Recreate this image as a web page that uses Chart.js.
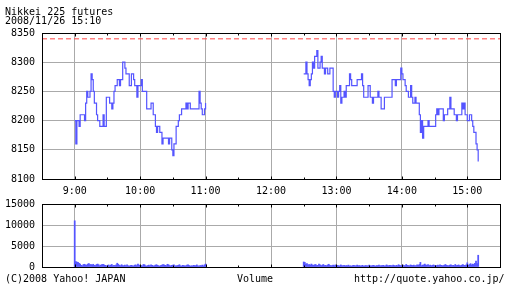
<!DOCTYPE html>
<html>
<head>
<meta charset="utf-8">
<script src="https://cdn.jsdelivr.net/npm/chart.js@4.4.1/dist/chart.umd.min.js"></script>
<style>
body { margin: 0; background: #fff; width: 512px; height: 288px; overflow: hidden; position: relative; }
canvas { position: absolute; left: 0; }
.txt { position: absolute; z-index: 2; white-space: pre; font-family: "DejaVu Sans Mono", monospace; font-size: 10px; line-height: 9px; color: #000; }
</style>
</head>
<body>
<div class="txt" style="left:5px;top:7px">Nikkei 225 futures
2008/11/26 15:10</div>
<canvas id="price" width="512" height="200" style="top:0"></canvas>
<canvas id="vol" width="512" height="89" style="top:191px"></canvas>
<div class="txt" style="left:5px;top:274px">(C)2008 Yahoo! JAPAN</div>
<div class="txt" style="left:237px;top:274px">Volume</div>
<div class="txt" style="left:354px;top:274px">http://quote.yahoo.co.jp/</div>
<script>
// axis range and labels
const xStart = '8:30';
const xEnd = '15:30';
const hourLabels = ['9:00', '10:00', '11:00', '12:00', '13:00', '14:00', '15:00'];
const halfHours = ['9:30', '10:30', '11:30', '12:30', '13:30', '14:30'];
const priceTicks = [8100, 8150, 8200, 8250, 8300, 8350];
const volTicks = [0, 5000, 10000, 15000];
const prevClose = 8340;

// morning session (stepped, each value holds until the next time)
const amTimes = ['9:00','9:01','9:02','9:04','9:05','9:09','9:10','9:11','9:12','9:14','9:15','9:16','9:17','9:18',
  '9:20','9:21','9:23','9:26','9:27','9:29','9:32','9:34','9:35','9:36','9:37','9:39','9:41','9:42','9:44','9:46',
  '9:47','9:49','9:50','9:52','9:54','9:55','9:57','9:58','10:01','10:02','10:06','10:10','10:12','10:14','10:15',
  '10:16','10:18','10:20','10:21','10:26','10:27','10:29','10:30','10:31','10:33','10:35','10:36','10:38','10:42',
  '10:43','10:44','10:46','10:54','10:55','10:56','10:57','10:59','11:00'];
const amPrices = [8200,8160,8200,8190,8210,8200,8230,8250,8240,8250,8280,8270,8250,8230,
  8210,8200,8190,8210,8190,8240,8230,8220,8230,8250,8260,8270,8260,8270,8300,8290,
  8280,8280,8260,8280,8270,8260,8240,8260,8270,8250,8220,8230,8210,8190,8180,
  8190,8180,8160,8170,8160,8170,8150,8140,8160,8190,8200,8210,8220,8230,
  8220,8230,8220,8250,8230,8220,8210,8220,8230];

// afternoon session
const pmTimes = ['12:30','12:32','12:33','12:34','12:35','12:36','12:37','12:38','12:39','12:40','12:42','12:43',
  '12:45','12:46','12:47','12:49','12:50','12:52','12:54','12:57','12:58','12:59','13:01','13:02','13:03','13:04',
  '13:05','13:07','13:08','13:09','13:12','13:13','13:14','13:19','13:23','13:24','13:25','13:29','13:31','13:33',
  '13:34','13:38','13:39','13:41','13:44','13:51','13:54','13:55','13:59','14:00','14:01','14:03','14:04','14:06',
  '14:08','14:09','14:10','14:12','14:13','14:16','14:17','14:18','14:19','14:20','14:24','14:25','14:31','14:32',
  '14:33','14:34','14:38','14:39','14:42','14:44','14:45','14:48','14:50','14:51','14:55','14:56','14:57','14:58',
  '15:00','15:02','15:04','15:05','15:06','15:08','15:09','15:10'];
const pmPrices = [8280,8300,8280,8270,8260,8270,8280,8300,8290,8310,8320,8290,
  8300,8310,8290,8280,8290,8280,8290,8250,8240,8250,8240,8250,8260,8230,
  8240,8250,8240,8260,8280,8270,8260,8270,8280,8260,8240,8260,8240,8230,
  8240,8250,8240,8220,8240,8270,8260,8270,8290,8280,8270,8260,8250,8240,
  8260,8240,8230,8240,8230,8210,8180,8200,8170,8190,8200,8190,8210,8220,
  8210,8220,8200,8210,8220,8240,8220,8210,8200,8210,8230,8220,8230,8210,
  8200,8210,8200,8190,8180,8160,8150,8130];

// volume per minute, starting at 9:00 and 12:30
const amVolStart = '9:00';
const amVolume = [11000,
  1300,1200,1100,900,700,400,300,600,650,500,
  450,700,800,600,550,500,650,400,350,600,
  700,550,300,450,600,650,500,400,250,350,
  500,300,450,600,250,400,350,500,900,650,
  400,300,550,350,300,450,250,500,300,200,
  350,400,300,250,450,500,300,700,450,400,
  350,250,600,550,300,200,350,450,300,500,
  400,250,300,450,550,400,300,200,350,450,
  600,500,400,300,650,550,350,250,400,450,
  500,300,250,350,400,550,300,200,400,350,
  250,300,450,500,350,200,300,250,400,350,
  300,500,250,200,350,300,450,250,500,700];
const pmVolStart = '12:30';
const pmVolume = [1200,1100,700,800,500,600,450,700,500,400,550,
  600,350,400,700,500,300,450,600,350,400,
  300,500,650,400,250,350,450,300,500,350,
  400,300,250,500,350,300,400,250,350,300,
  450,250,300,200,350,400,300,250,450,300,
  350,250,300,400,200,300,350,250,300,450,
  300,250,350,400,300,200,350,300,450,250,
  300,350,400,250,300,500,350,300,400,350,
  300,450,350,250,400,300,550,400,300,350,
  450,350,300,600,400,350,300,500,400,350,
  450,300,350,500,400,600,1100,300,450,500,
  700,500,400,600,350,450,300,400,500,350,
  400,300,450,350,500,400,300,350,450,600,
  400,350,300,450,500,350,400,300,600,350,
  400,500,350,300,450,600,400,350,500,1000,
  400,600,800,500,700,600,900,1400,800,2800];

const blue = '#5555ff';
const red = '#ff4444';
const gridGray = '#aaaaaa';
const tickFont = { family: 'DejaVu Sans Mono', size: 10 };

function toMin(s) {
  const p = s.split(':');
  return Number(p[0]) * 60 + Number(p[1]);
}
function steps(times, vals) {
  return times.map((t, i) => ({ x: toMin(t), y: vals[i] }));
}
function perMinute(start, vals) {
  return vals.map((v, i) => ({ x: toMin(start) + i, y: v }));
}

// black frame plus the little inward ticks on top and bottom
const framePlugin = {
  id: 'frame',
  afterDraw(chart) {
    const a = chart.chartArea, ctx = chart.ctx, xs = chart.scales.x;
    const l = Math.round(a.left) + 0.5, r = Math.round(a.right) + 0.5;
    const t = Math.round(a.top) + 0.5, b = Math.round(a.bottom) + 0.5;
    ctx.save();
    ctx.strokeStyle = '#000';
    ctx.lineWidth = 1;
    ctx.strokeRect(l, t, r - l, b - t);
    ctx.beginPath();
    hourLabels.concat(halfHours).forEach(h => {
      const len = hourLabels.includes(h) ? 3 : 2;
      const px = Math.round(xs.getPixelForValue(toMin(h))) + 0.5;
      ctx.moveTo(px, t); ctx.lineTo(px, t + len);
      ctx.moveTo(px, b); ctx.lineTo(px, b - len);
    });
    ctx.stroke();
    ctx.restore();
  }
};

function xScale(showLabels, height) {
  return {
    type: 'linear',
    offset: false,
    min: toMin(xStart),
    max: toMin(xEnd),
    afterBuildTicks: s => { s.ticks = hourLabels.map(h => ({ value: toMin(h) })); },
    afterFit: s => { s.height = height; },
    ticks: {
      display: showLabels,
      autoSkip: false,
      maxRotation: 0,
      padding: 6,
      color: '#000',
      font: tickFont,
      callback: (v, i) => hourLabels[i]
    },
    grid: { color: gridGray, drawTicks: false, offset: false },
    border: { display: false }
  };
}

function yScale(min, max, values) {
  return {
    min: min,
    max: max,
    afterBuildTicks: s => { s.ticks = values.map(v => ({ value: v })); },
    afterFit: s => { s.width = 42; },
    ticks: { padding: 7, color: '#000', font: tickFont, callback: v => String(v) },
    grid: { color: gridGray, drawTicks: false },
    border: { display: false }
  };
}

const lineStyle = { borderColor: blue, borderWidth: 1.2, pointRadius: 0, stepped: true, fill: false };

new Chart(document.getElementById('price'), {
  type: 'line',
  data: {
    datasets: [
      Object.assign({ data: steps(amTimes, amPrices) }, lineStyle),
      Object.assign({ data: steps(pmTimes, pmPrices) }, lineStyle),
      {
        data: [{ x: toMin(xStart), y: prevClose }, { x: toMin(xEnd), y: prevClose }],
        borderColor: red, borderWidth: 1, borderDash: [5, 3], pointRadius: 0
      }
    ]
  },
  options: {
    responsive: false,
    animation: false,
    layout: { padding: { left: 0, right: 12, top: 33, bottom: 0 } },
    plugins: { legend: { display: false }, tooltip: { enabled: false } },
    scales: {
      x: xScale(true, 21),
      y: yScale(priceTicks[0], priceTicks[priceTicks.length - 1], priceTicks)
    }
  },
  plugins: [framePlugin]
});

new Chart(document.getElementById('vol'), {
  type: 'bar',
  data: {
    datasets: [{
      data: perMinute(amVolStart, amVolume).concat(perMinute(pmVolStart, pmVolume)),
      backgroundColor: blue,
      borderWidth: 0,
      barPercentage: 1,
      categoryPercentage: 1
    }]
  },
  options: {
    responsive: false,
    animation: false,
    layout: { padding: { left: 0, right: 12, top: 13, bottom: 13 } },
    plugins: { legend: { display: false }, tooltip: { enabled: false } },
    scales: {
      x: xScale(false, 0),
      y: yScale(volTicks[0], volTicks[volTicks.length - 1], volTicks)
    }
  },
  plugins: [framePlugin]
});
</script>
</body>
</html>
